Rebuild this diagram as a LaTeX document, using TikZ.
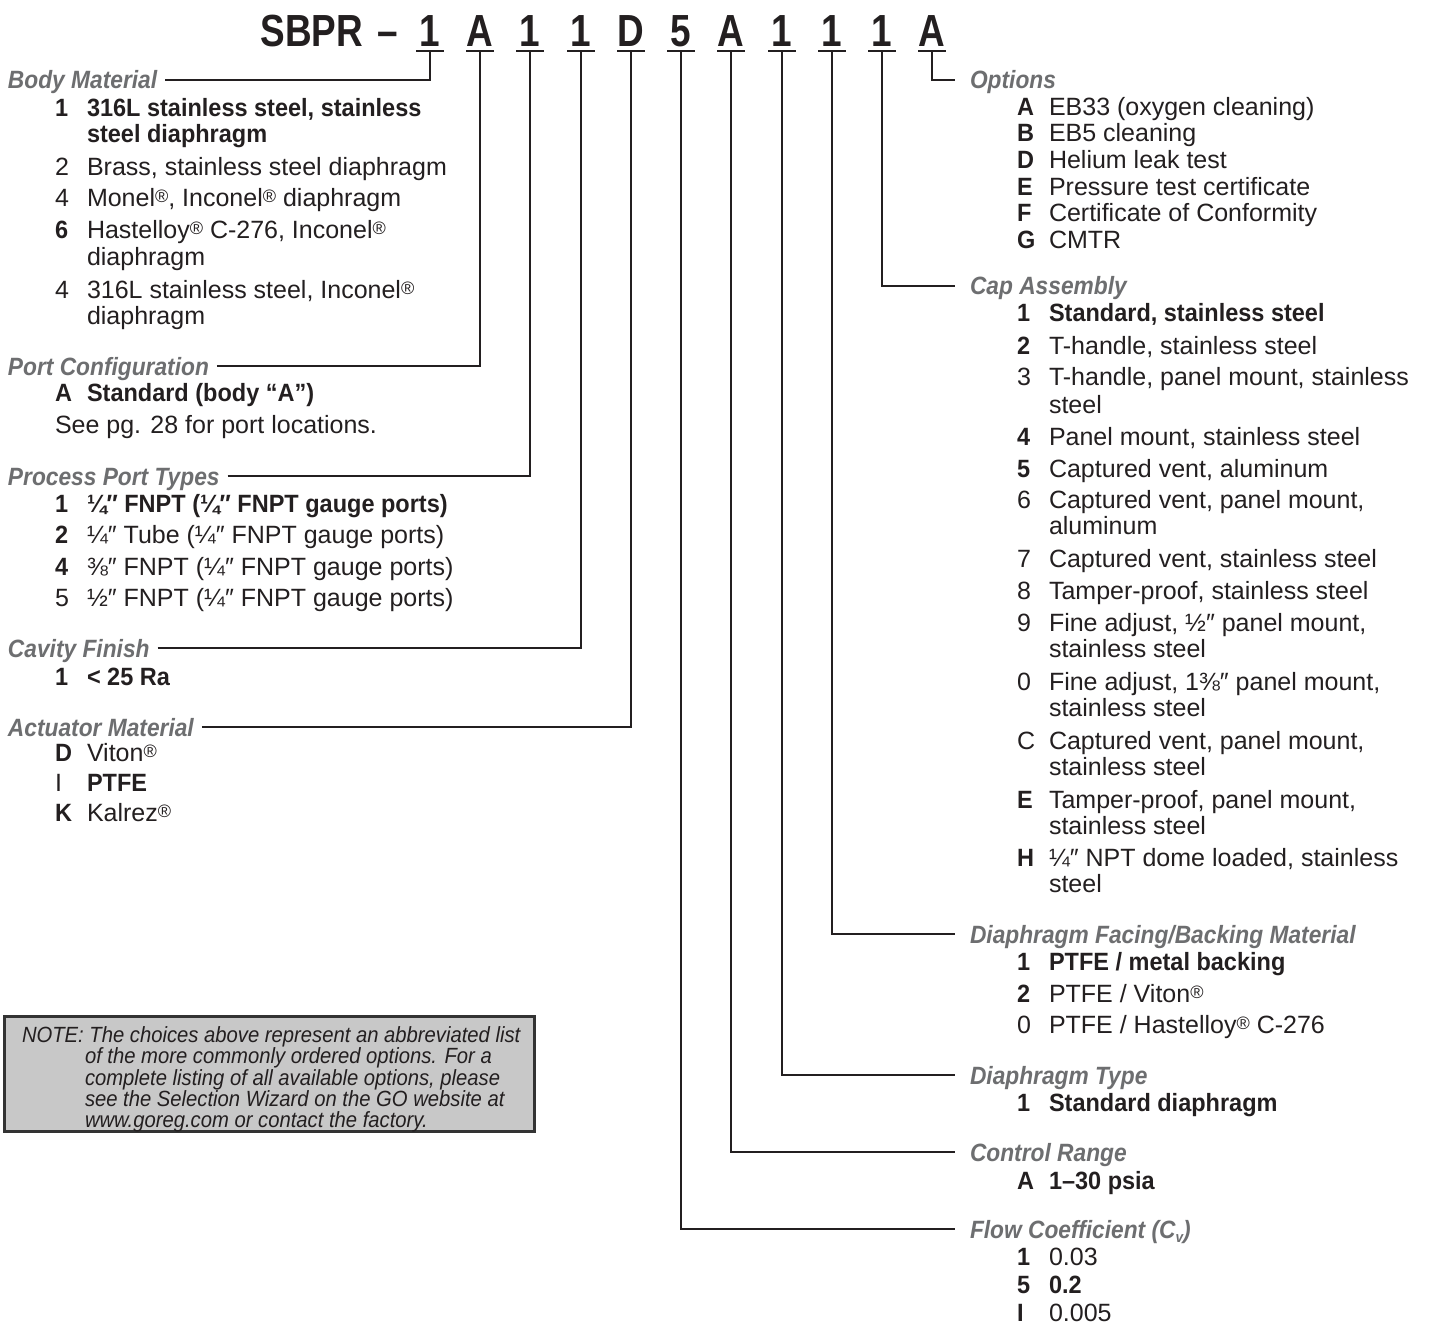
\documentclass[tikz,border=0pt]{standalone}
\usepackage{fontspec}
\setmainfont{Liberation Sans}
\newfontfamily\rgf{Liberation Sans}
\newfontfamily\bcf[FakeStretch=0.94]{Liberation Sans}
\newfontfamily\hdf[FakeStretch=0.91]{Liberation Sans}
\newfontfamily\ttlf[FakeStretch=0.82]{Liberation Sans}
\newfontfamily\ntf[FakeStretch=0.92]{Liberation Sans}
\definecolor{ink}{HTML}{231F20}
\definecolor{headgray}{HTML}{6D6E70}
\definecolor{notefill}{HTML}{C8C8C8}
\definecolor{noteline}{HTML}{333333}
\newcommand\reg{\raisebox{4pt}{\fontsize{18}{18}\selectfont ®}}
\newcommand\bd[1]{{\bcf\bfseries #1}}
\newcommand\szr{\fontsize{25}{30}\selectfont}
\newcommand\itemline[5]{\node[txt] (#1c) at (#2,#3) {#4};\node[txt] (#1d) at (#2+32,#3) {#5};}
\newcommand\contline[4]{\node[txt] (#1) at (#2+32,#3) {#4};}
\tikzset{
  txt/.style={anchor=base west, inner sep=0pt, outer sep=0pt, text=ink, font=\rgf\szr},
  hdg/.style={anchor=west, inner sep=0pt, outer sep=0pt, text height=18pt, text depth=0pt, text=headgray, font=\hdf\bfseries\itshape\szr},
  conn/.style={draw=ink, line width=2pt},
  ul/.style={draw=ink, line width=2.5pt},
  codech/.style={anchor=base, inner sep=0pt, outer sep=0pt, text=ink, font=\ttlf\bfseries\fontsize{45}{50}\selectfont},
  nt/.style={anchor=base west, inner sep=0pt, outer sep=0pt, text=ink, font=\ntf\itshape\fontsize{22}{24}\selectfont},
}
\begin{document}
\begin{tikzpicture}[x=1pt,y=-1pt]
\fill[white] (0,0) rectangle (1435,1332);
\useasboundingbox (0,0) rectangle (1435,1332);

% ---- title ----
\node[codech, anchor=base east] (ttl) at (363,47) {SBPR};
\node[codech] (dash) at (388,47) {–};
\foreach \i/\x/\ch in {1/430/1,2/480/A,3/530/1,4/581/1,5/631/D,6/681/5,7/731/A,8/782/1,9/832/1,10/882/1,11/932/A}{
  \node[codech] (k\i) at (\x,47) {\ch};
  \coordinate (u\i) at (\x,51);
  \draw[ul] ([xshift=-14pt]u\i) -- ([xshift=14pt]u\i);
}

% ---- left headings ----
\node[hdg] (hBody) at (8,80) {Body Material};
\node[hdg] (hPort) at (8,366) {Port Configuration};
\node[hdg] (hProc) at (8,476) {Process Port Types};
\node[hdg] (hCav)  at (8,648) {Cavity Finish};
\node[hdg] (hAct)  at (8,727) {Actuator Material};

% ---- right headings ----
\node[hdg] (hOpt)  at (970,80) {Options};
\node[hdg] (hCap)  at (970,286) {Cap Assembly};
\node[hdg] (hFace) at (970,934) {Diaphragm Facing/Backing Material};
\node[hdg] (hType) at (970,1075) {Diaphragm Type};
\node[hdg] (hCtrl) at (970,1152) {Control Range};
\node[hdg] (hFlow) at (970,1229) {Flow Coefficient (C\raisebox{-4pt}{\fontsize{15}{15}\selectfont v})};

% ---- connectors ----
\draw[conn] ([xshift=8pt]hBody.east) -| (u1);
\draw[conn] ([xshift=8pt]hPort.east) -| (u2);
\draw[conn] ([xshift=8pt]hProc.east) -| (u3);
\draw[conn] ([xshift=8pt]hCav.east) -| (u4);
\draw[conn] ([xshift=8pt]hAct.east) -| (u5);
\draw[conn] (u6) |- ([xshift=-15pt]hFlow.west);
\draw[conn] (u7) |- ([xshift=-15pt]hCtrl.west);
\draw[conn] (u8) |- ([xshift=-15pt]hType.west);
\draw[conn] (u9) |- ([xshift=-15pt]hFace.west);
\draw[conn] (u10) |- ([xshift=-15pt]hCap.west);
\draw[conn] (u11) |- ([xshift=-15pt]hOpt.west);

% ---- Body Material ----
\itemline{bm1}{55}{117}{\bd{1}}{\bd{316L stainless steel, stainless}}
\contline{bm1x}{55}{143}{\bd{steel diaphragm}}
\itemline{bm2}{55}{176}{2}{Brass, stainless steel diaphragm}
\itemline{bm3}{55}{207}{4}{Monel\reg, Inconel\reg\ diaphragm}
\itemline{bm4}{55}{239}{\bd{6}}{Hastelloy\reg\ C-276, Inconel\reg}
\contline{bm4x}{55}{266}{diaphragm}
\itemline{bm5}{55}{299}{4}{316L stainless steel, Inconel\reg}
\contline{bm5x}{55}{325}{diaphragm}

% ---- Port Configuration ----
\itemline{pc1}{55}{401}{\bd{A}}{\bd{Standard (body “A”)}}
\node[txt] (pc2) at (55,433) {See pg. 28 for port locations.};

% ---- Process Port Types ----
\itemline{pp1}{55}{512}{\bd{1}}{\bd{¼″ FNPT (¼″ FNPT gauge ports)}}
\itemline{pp2}{55}{543}{\bd{2}}{¼″ Tube (¼″ FNPT gauge ports)}
\itemline{pp3}{55}{575}{\bd{4}}{⅜″ FNPT (¼″ FNPT gauge ports)}
\itemline{pp4}{55}{606}{5}{½″ FNPT (¼″ FNPT gauge ports)}

% ---- Cavity Finish ----
\itemline{cf1}{55}{685}{\bd{1}}{\bd{< 25 Ra}}

% ---- Actuator Material ----
\itemline{am1}{55}{761}{\bd{D}}{Viton\reg}
\itemline{am2}{55}{791}{I}{\bd{PTFE}}
\itemline{am3}{55}{821}{\bd{K}}{Kalrez\reg}

% ---- Options ----
\itemline{op1}{1017}{116}{\bd{A}}{EB33 (oxygen cleaning)}
\itemline{op2}{1017}{142}{\bd{B}}{EB5 cleaning}
\itemline{op3}{1017}{169}{\bd{D}}{Helium leak test}
\itemline{op4}{1017}{196}{\bd{E}}{Pressure test certificate}
\itemline{op5}{1017}{222}{\bd{F}}{Certificate of Conformity}
\itemline{op6}{1017}{249}{\bd{G}}{CMTR}

% ---- Cap Assembly ----
\itemline{ca1}{1017}{322}{\bd{1}}{\bd{Standard, stainless steel}}
\itemline{ca2}{1017}{354}{\bd{2}}{T-handle, stainless steel}
\itemline{ca3}{1017}{385}{3}{T-handle, panel mount, stainless}
\contline{ca3x}{1017}{413}{steel}
\itemline{ca4}{1017}{445}{\bd{4}}{Panel mount, stainless steel}
\itemline{ca5}{1017}{477}{\bd{5}}{Captured vent, aluminum}
\itemline{ca6}{1017}{508}{6}{Captured vent, panel mount,}
\contline{ca6x}{1017}{534}{aluminum}
\itemline{ca7}{1017}{567}{7}{Captured vent, stainless steel}
\itemline{ca8}{1017}{599}{8}{Tamper-proof, stainless steel}
\itemline{ca9}{1017}{631}{9}{Fine adjust, ½″ panel mount,}
\contline{ca9x}{1017}{657}{stainless steel}
\itemline{ca0}{1017}{690}{0}{Fine adjust, 1⅜″ panel mount,}
\contline{ca0x}{1017}{716}{stainless steel}
\itemline{caC}{1017}{749}{C}{Captured vent, panel mount,}
\contline{caCx}{1017}{775}{stainless steel}
\itemline{caE}{1017}{808}{\bd{E}}{Tamper-proof, panel mount,}
\contline{caEx}{1017}{834}{stainless steel}
\itemline{caH}{1017}{866}{\bd{H}}{¼″ NPT dome loaded, stainless}
\contline{caHx}{1017}{892}{steel}

% ---- Diaphragm Facing ----
\itemline{df1}{1017}{970}{\bd{1}}{\bd{PTFE / metal backing}}
\itemline{df2}{1017}{1002}{\bd{2}}{PTFE / Viton\reg}
\itemline{df3}{1017}{1033}{0}{PTFE / Hastelloy\reg\ C-276}

% ---- Diaphragm Type ----
\itemline{dt1}{1017}{1111}{\bd{1}}{\bd{Standard diaphragm}}

% ---- Control Range ----
\itemline{cr1}{1017}{1189}{\bd{A}}{\bd{1–30 psia}}

% ---- Flow Coefficient ----
\itemline{fc1}{1017}{1265}{\bd{1}}{0.03}
\itemline{fc2}{1017}{1293}{\bd{5}}{\bd{0.2}}
\itemline{fc3}{1017}{1321}{\bd{I}}{0.005}

% ---- Note box ----
\node[draw=noteline, fill=notefill, line width=3pt, inner sep=0pt, minimum width=530pt, minimum height=115pt] (notebox) at (269.5,1074) {};
\node[nt] (n1) at (22,1042) {NOTE: The choices above represent an abbreviated list};
\node[nt] (n2) at (85,1063) {of the more commonly ordered options. For a};
\node[nt] (n3) at (85,1085) {complete listing of all available options, please};
\node[nt] (n4) at (85,1106) {see the Selection Wizard on the GO website at};
\node[nt] (n5) at (85,1127) {www.goreg.com or contact the factory.};
\end{tikzpicture}
\end{document}
